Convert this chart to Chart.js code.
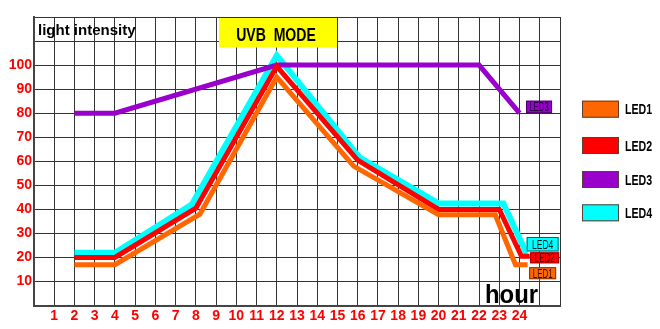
<!DOCTYPE html>
<html>
<head>
<meta charset="utf-8">
<script src="https://cdn.jsdelivr.net/npm/chart.js@4/dist/chart.umd.min.js"></script>
<style>
html,body{margin:0;padding:0;background:#fff;}
#wrap{width:660px;height:329px;position:relative;}
</style>
</head>
<body>
<div id="wrap"><canvas id="c" width="660" height="329"></canvas></div>
<script>
// ---- data ----
const seriesNames = ['LED1', 'LED2', 'LED3', 'LED4'];
const seriesColors = ['#FF6600', '#FF0000', '#9900CC', '#00FFFF'];
const led1Hours = [2, 4, 8.2, 12, 15.8, 20, 22.8, 23.8, 24.4];
const led1Values = [17, 17, 38, 95, 58, 37.8, 37.8, 17, 17];
const led2Hours = [2, 4, 8, 12, 16, 20, 23, 24.1, 24.5];
const led2Values = [20, 20, 40.5, 99.5, 60.5, 40, 40, 20.5, 20.5];
const led3Hours = [2, 4, 12, 22, 24];
const led3Values = [80, 80, 100, 100, 80];
const led4Hours = [2, 4, 7.8, 12, 16.1, 20, 23.2, 24.3, 24.4];
const led4Values = [22, 22, 42, 104, 61.5, 42.5, 42.5, 22.5, 22.5];
const xTickLabels = ['1','2','3','4','5','6','7','8','9','10','11','12','13','14','15','16','17','18','19','20','21','22','23','24'];
const yTickLabels = ['10','20','30','40','50','60','70','80','90','100'];
const yTitle = 'light intensity';
const xTitle = 'hour';
const modeLabel = 'UVB  MODE';

function pts(xs, ys){ return xs.map((x,i)=>({x:x, y:ys[i]})); }
const allHours = [led1Hours, led2Hours, led3Hours, led4Hours];
const allValues = [led1Values, led2Values, led3Values, led4Values];

const NARROW = '"Liberation Sans Narrow", "Liberation Sans", Arial, sans-serif';
const SANS = '"Liberation Sans", Arial, sans-serif';

function drawSquished(ctx, text, x, y, font, sx, color, align){
  ctx.save();
  ctx.font = font;
  ctx.fillStyle = color;
  ctx.textBaseline = 'alphabetic';
  const w = ctx.measureText(text).width * sx;
  let xx = x;
  if (align === 'center') xx = x - w/2;
  else if (align === 'right') xx = x - w;
  ctx.translate(xx, y);
  ctx.scale(sx, 1);
  ctx.textAlign = 'left';
  ctx.fillText(text, 0, 0);
  ctx.restore();
}

const decorPlugin = {
  id: 'decor',
  afterDatasetsDraw(chart){
    const ctx = chart.ctx;
    const xs = chart.scales.x, ys = chart.scales.y;
    const area = chart.chartArea;
    // UVB MODE box
    const bx0 = 219, bx1 = 337;
    const by0 = area.top + 1, by1 = 47.5;
    ctx.save();
    ctx.fillStyle = '#FFFF00';
    ctx.fillRect(bx0, by0, bx1 - bx0, by1 - by0);
    ctx.restore();
    drawSquished(ctx, modeLabel, 276, 41, 'bold 19px ' + SANS, 0.74, '#000', 'center');
    // y title
    drawSquished(ctx, yTitle, area.left + 4, area.top + 18, 'bold 15px ' + SANS, 1.0, '#000', 'left');
    // x title
    drawSquished(ctx, xTitle, 511.5, area.bottom - 3, 'bold 26px ' + SANS, 0.92, '#000', 'center');
    // end-of-line labels
    const specs = [
      {dx: 1.5, dy: 2.5, w: 27, h: 12, anchor: 'top', fs: 12, tc: '#2a1000', bc: '#7a3300'},
      {dx: 0.5, dy: 0, w: 29, h: 11, anchor: 'mid', fs: 12, tc: '#2a0000', bc: '#990000'},
      {dx: 6.5, dy: 0, w: 26, h: 12.5, anchor: 'bottom', fs: 12, tc: '#1a0030', bc: '#4a0066'},
      {dx: -1, dy: 0, w: 32, h: 14.5, anchor: 'bottom', fs: 13, tc: '#001a1a', bc: '#006666'}
    ];
    chart.data.datasets.forEach((ds, i) => {
      const meta = chart.getDatasetMeta(i);
      const last = meta.data[meta.data.length - 1];
      const s = specs[i];
      const left = last.x + s.dx;
      let top;
      if (s.anchor === 'top') top = last.y + s.dy;
      else if (s.anchor === 'mid') top = last.y - s.h/2 + 1.5;
      else top = last.y - s.h;
      ctx.save();
      ctx.fillStyle = ds.borderColor;
      ctx.fillRect(left, top, s.w, s.h);
      ctx.strokeStyle = s.bc;
      ctx.lineWidth = 1;
      ctx.strokeRect(left + 0.5, top + 0.5, s.w - 1, s.h - 1);
      ctx.restore();
      drawSquished(ctx, ds.label, left + s.w/2, top + s.h/2 + s.fs*0.36, s.fs + 'px ' + SANS, 0.66, s.tc, 'center');
    });
    // legend
    const legTops = [100.7, 137, 171, 204.3];
    chart.data.datasets.forEach((ds, i) => {
      const t = legTops[i];
      ctx.save();
      ctx.fillStyle = ds.borderColor;
      ctx.fillRect(582, t, 37, 17);
      ctx.strokeStyle = '#5a4030';
      ctx.lineWidth = 1;
      ctx.strokeRect(582.5, t + 0.5, 36, 16);
      ctx.restore();
      drawSquished(ctx, ds.label, 625, t + 13.5, 'bold 14px ' + SANS, 0.76, '#000', 'left');
    });
  }
};

new Chart(document.getElementById('c'), {
  type: 'line',
  data: {
    datasets: seriesNames.map((n, i) => ({
      label: n,
      data: pts(allHours[i], allValues[i]),
      borderColor: seriesColors[i],
      backgroundColor: seriesColors[i],
      borderWidth: i === 3 ? 6 : 5,
      pointRadius: 0,
      tension: 0,
      fill: false,
      borderJoinStyle: 'miter',
      borderCapStyle: 'butt'
    }))
  },
  options: {
    responsive: false,
    animation: false,
    layout: { padding: { top: 17, right: 100, left: 0, bottom: 0 } },
    plugins: { legend: { display: false }, tooltip: { enabled: false } },
    scales: {
      x: {
        type: 'linear', min: 0, max: 26,
        afterFit(s){ s.height = 23.4; },
        ticks: {
          stepSize: 1, autoSkip: false, maxRotation: 0, padding: 2,
          color: '#FF0000', font: { family: NARROW, size: 14, weight: 'bold' },
          callback: (v) => xTickLabels[v - 1] !== undefined ? xTickLabels[v - 1] : ''
        },
        grid: { color: '#333', lineWidth: 1, drawTicks: false },
        border: { color: '#444', width: 2 }
      },
      y: {
        min: 0, max: 120,
        afterFit(s){ s.width = 34; },
        ticks: {
          stepSize: 10, padding: 2,
          color: '#FF0000', font: { family: SANS, size: 14, weight: 'bold' },
          callback: (v) => yTickLabels.includes(String(v)) ? String(v) : ''
        },
        grid: { color: '#333', lineWidth: 1, drawTicks: false },
        border: { color: '#444', width: 2 }
      }
    }
  },
  plugins: [decorPlugin]
});
</script>
</body>
</html>
